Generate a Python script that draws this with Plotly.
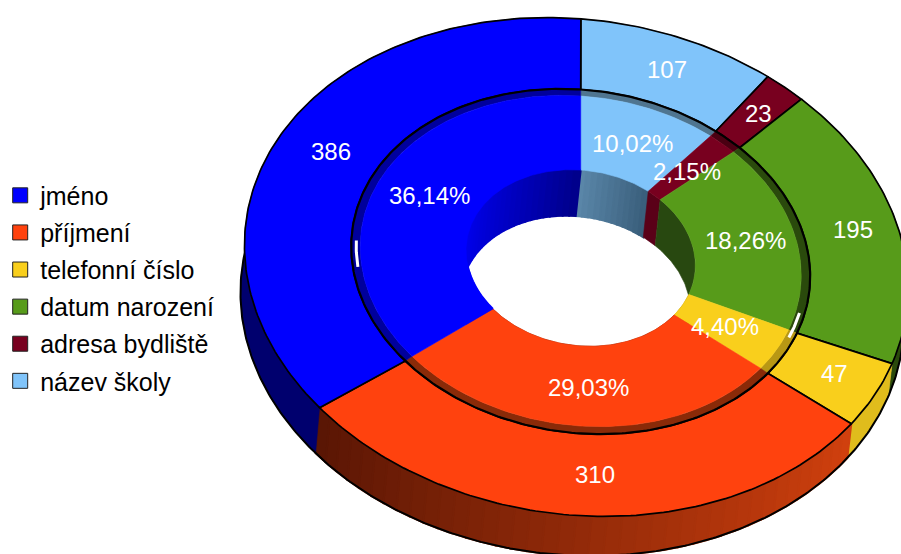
import numpy as np
import plotly.graph_objects as go

# data, clockwise from 12 o'clock
categories = ["název školy", "adresa bydliště", "datum narození", "telefonní číslo", "příjmení", "jméno"]
counts = [107, 23, 195, 47, 310, 386]
percent_labels = ["10,02%", "2,15%", "18,26%", "4,40%", "29,03%", "36,14%"]
legend_order = ["jméno", "příjmení", "telefonní číslo", "datum narození", "adresa bydliště", "název školy"]

# colours per category
face = ["#80C4FA", "#78001F", "#579B1A", "#F9CF1C", "#FF420E", "#0000FF"]
side0 = ["#4A7896", "#4A0012", "#2A4A0C", "#D8B41A", "#5A1604", "#00006E"]
side1 = ["#3C6080", "#4A0012", "#2A4A0C", "#E0BC1C", "#D0400E", "#00006E"]
wall0 = ["#5A86A8", "#5A0018", "#284810", "#B09014", "#802006", "#0000FF"]
wall1 = ["#3A5F7C", "#5A0018", "#284810", "#B09014", "#802006", "#00008C"]
lip = ["#4F7590", "#4A0012", "#2A4A0C", "#B89814", "#8A2A08", "#00009C"]

# geometry of the tilted rings (pixels of the page): rx, ry, cx, cy
SHEAR = 0.065
OUTER = (332.5, 248.5, 575.5, 267)
GROOVE = (230, 172, 580, 261.5)
LIP = (225, 168, 580, 261)
INNER = (221, 165, 580, 261)
HOLE = (115, 88, 580, 258)
HOLE_DEPTH = (-5, 46)
SIDE_DEPTH = (-4, 40)

total = sum(counts)
edges = np.cumsum([0] + counts) / total * 2 * np.pi


def warp(t):
    # perspective moves the slice edges of the big outer rim a little
    return t + np.radians(0.8 - 2.7 * np.clip(np.sin(t), 0, None))


def rim(t, ring, dx=0, dy=0, lean=0):
    rx, ry, cx, cy = ring
    x = cx + rx * np.sin(t) + dx
    y = cy - ry * np.cos(t) + SHEAR * rx * np.sin(t) + dy - lean * np.sin(t)
    return x, y


def arc(a, b):
    return np.linspace(a, b, max(int((b - a) * 60), 4))


def mix(c0, c1, f):
    p = [int(c0[i:i + 2], 16) for i in (1, 3, 5)]
    q = [int(c1[i:i + 2], 16) for i in (1, 3, 5)]
    return "rgb({},{},{})".format(*[round(u + (v - u) * f) for u, v in zip(p, q)])


fig = go.Figure()


def poly(x, y, color, line=None, width=0.6):
    fig.add_trace(go.Scatter(
        x=x, y=y, mode="lines", fill="toself", fillcolor=color,
        line=dict(color=line or color, width=width),
        hoverinfo="skip", showlegend=False,
    ))


def stroke(x, y, color="black", width=1.5):
    fig.add_trace(go.Scatter(
        x=x, y=y, mode="lines", line=dict(color=color, width=width),
        hoverinfo="skip", showlegend=False,
    ))


def band(a, b, ring, depth, lean, c0, c1, n=1, gamma=1):
    # wall between an arc and the same arc pushed down, shaded in steps
    steps = np.linspace(a, b, n + 1)
    for i in range(n):
        t = arc(steps[i], steps[i + 1])
        x0, y0 = rim(t, ring)
        x1, y1 = rim(t[::-1], ring, depth[0], depth[1], lean)
        # the thick own-colour line closes the seams between the steps
        poly(np.r_[x0, x1, x0[0]], np.r_[y0, y1, y0[0]],
             mix(c0, c1, (i / max(n - 1, 1)) ** gamma), width=2 if n > 1 else 0.6)


def sector(a, b, ring_out, ring_in, color, line=None, width=0.6):
    t = arc(a, b)
    x0, y0 = rim(t, ring_out)
    x1, y1 = rim(t[::-1], ring_in)
    poly(np.r_[x0, x1, x0[0]], np.r_[y0, y1, y0[0]], color, line, width)


# walls first, faces go over whatever is hidden
for i in range(len(counts)):
    band(edges[i], edges[i + 1], HOLE, HOLE_DEPTH, 0, wall0[i], wall1[i],
         {0: 12, 5: 40}.get(i, 1), 2 if i == 5 else 1)
outer_edges = warp(edges)
outer_edges[-1] = outer_edges[0] + 2 * np.pi
for i in range(len(counts)):
    band(outer_edges[i], outer_edges[i + 1], OUTER, SIDE_DEPTH, 7, side1[i], side0[i],
         40 if i == 4 else 1)
t = np.linspace(outer_edges[2] + 0.9, outer_edges[6] - 1.25, 300)
stroke(*rim(t, OUTER, SIDE_DEPTH[0], SIDE_DEPTH[1], 7), width=2)

# outer ring, its inner edge sits on the groove
for i in range(len(counts)):
    t = arc(outer_edges[i], outer_edges[i + 1])
    x0, y0 = rim(t, OUTER)
    x1, y1 = rim(arc(edges[i], edges[i + 1])[::-1], GROOVE)
    poly(np.r_[x0, x1, x0[0]], np.r_[y0, y1, y0[0]], face[i], "black", 1.7)

# lip and face of the inner ring
for i in range(len(counts)):
    sector(edges[i], edges[i + 1], GROOVE, INNER, lip[i])
t = np.linspace(0, 2 * np.pi, 400)
stroke(*rim(t, GROOVE), width=2.2)
stroke(*rim(np.radians(np.linspace(263, 272, 12)), LIP), color="white", width=3)
stroke(*rim(np.radians(np.linspace(103, 112, 12)), LIP), color="white", width=3)
for i in range(len(counts)):
    sector(edges[i], edges[i + 1], INNER, HOLE, face[i])

# legend entries
for name in legend_order:
    c = face[categories.index(name)]
    fig.add_trace(go.Scatter(
        x=[None], y=[None], mode="markers", name=name, legendgroup=name,
        marker=dict(symbol="square", size=15, color=c, line=dict(color="#222222", width=1)),
    ))

# value labels
count_x = [666, 758, 853, 834, 594, 330]
count_y = [69, 113, 229, 373, 474, 151]
pct_x = [632, 687, 745, 725, 588, 428]
pct_y = [143, 171, 240, 326, 387, 195]
for s, x, y in zip(counts, count_x, count_y):
    fig.add_annotation(x=x, y=y, text=str(s), showarrow=False,
                       font=dict(family="Liberation Sans", size=24, color="white"))
for s, x, y in zip(percent_labels, pct_x, pct_y):
    fig.add_annotation(x=x, y=y, text=s, showarrow=False,
                       font=dict(family="Liberation Sans", size=24, color="white"))

fig.update_layout(
    width=901, height=554,
    margin=dict(l=0, r=0, t=0, b=0),
    paper_bgcolor="white", plot_bgcolor="white",
    xaxis=dict(range=[0, 901], visible=False, fixedrange=True),
    yaxis=dict(range=[554, 0], visible=False, fixedrange=True),
    legend=dict(x=-0.002, y=0.48, xanchor="left", yanchor="middle", tracegroupgap=1.6,
                font=dict(family="Liberation Sans", size=25, color="black"),
                bgcolor="rgba(0,0,0,0)"),
)

# the page's default body margin would push the chart off its place
fig.write_html("out.html", config=dict(displayModeBar=False),
               post_script="document.body.style.margin='0'")
